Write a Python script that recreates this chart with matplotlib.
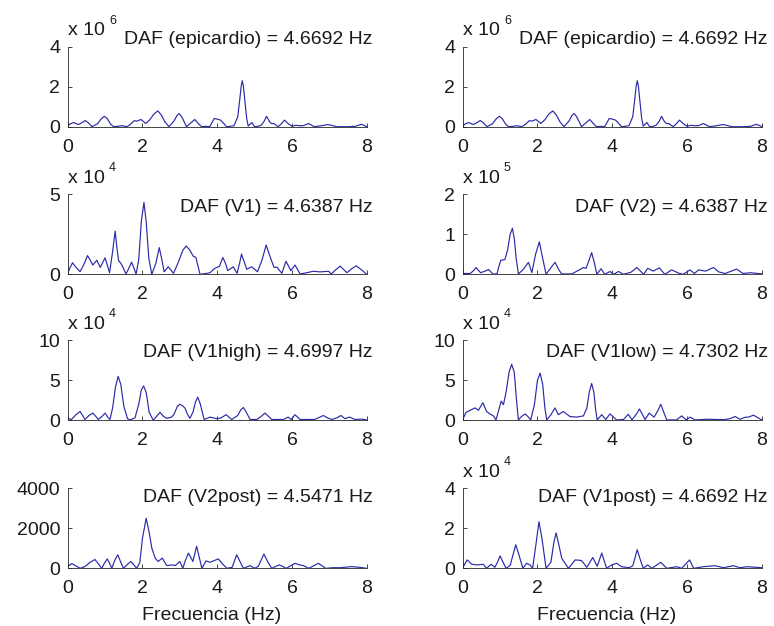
import numpy as np
import matplotlib.pyplot as plt

plt.rcParams['font.family'] = ['Liberation Sans', 'DejaVu Sans']
plt.rcParams['font.size'] = 14

# (frequency Hz, amplitude in units of the axis multiplier)
epi = [(0, 0.05), (0.08, 0.15), (0.16, 0.21), (0.23, 0.15), (0.29, 0.11), (0.38, 0.2), (0.47, 0.31),
       (0.56, 0.18), (0.65, 0.0), (0.8, 0.15), (0.9, 0.4), (0.98, 0.52), (1.06, 0.4), (1.15, 0.12),
       (1.23, 0.0), (1.35, 0.02), (1.45, 0.05), (1.58, 0.0), (1.68, 0.12), (1.78, 0.3), (1.85, 0.28),
       (1.96, 0.36), (2.09, 0.16), (2.2, 0.35), (2.3, 0.62), (2.41, 0.79), (2.5, 0.6), (2.6, 0.25),
       (2.71, 0.0), (2.85, 0.3), (2.92, 0.55), (2.98, 0.66), (3.05, 0.5), (3.18, 0.0), (3.3, 0.2),
       (3.4, 0.36), (3.5, 0.15), (3.58, 0.0), (3.7, 0.02), (3.8, 0.0), (3.92, 0.41), (4.0, 0.38),
       (4.09, 0.33), (4.18, 0.15), (4.25, 0.0), (4.35, 0.02), (4.45, 0.05), (4.55, 0.5), (4.6, 1.3),
       (4.64, 2.0), (4.67, 2.3), (4.7, 2.05), (4.74, 1.3), (4.79, 0.4), (4.83, 0.03), (4.93, 0.21),
       (5.0, 0.0), (5.1, 0.02), (5.18, 0.08), (5.25, 0.25), (5.32, 0.52), (5.4, 0.25), (5.45, 0.16),
       (5.52, 0.15), (5.63, 0.0), (5.72, 0.15), (5.8, 0.33), (5.9, 0.15), (6.0, 0.02), (6.1, 0.07),
       (6.2, 0.05), (6.3, 0.05), (6.37, 0.1), (6.44, 0.16), (6.52, 0.08), (6.6, 0.0), (6.8, 0.05),
       (6.96, 0.11), (7.1, 0.05), (7.2, 0.0), (7.5, 0.0), (7.7, 0.02), (7.86, 0.12), (7.95, 0.05),
       (8.0, 0.0)]

v1 = [(0, 0.06), (0.06, 0.4), (0.13, 0.72), (0.2, 0.5), (0.33, 0.16), (0.43, 0.6), (0.53, 1.17),
      (0.6, 0.9), (0.67, 0.58), (0.78, 0.88), (0.87, 0.43), (0.93, 0.7), (1.0, 1.03), (1.07, 0.5),
      (1.12, 0.1), (1.2, 1.4), (1.27, 2.7), (1.32, 1.6), (1.36, 0.88), (1.45, 0.58), (1.56, 0.02),
      (1.64, 0.4), (1.71, 0.76), (1.77, 0.4), (1.83, 0.02), (1.9, 0.9), (1.97, 3.3), (2.04, 4.49),
      (2.1, 3.3), (2.17, 1.0), (2.25, 0.0), (2.36, 0.7), (2.45, 1.67), (2.52, 0.9), (2.58, 0.16),
      (2.69, 0.47), (2.83, 0.06), (2.95, 0.7), (3.08, 1.5), (3.17, 1.77), (3.27, 1.5), (3.36, 1.13),
      (3.43, 1.05), (3.54, 0.0), (3.7, 0.05), (3.81, 0.1), (3.92, 0.35), (3.99, 0.43), (4.06, 0.5),
      (4.15, 1.05), (4.22, 0.7), (4.28, 0.23), (4.43, 0.47), (4.53, 0.06), (4.6, 0.7), (4.65, 1.26),
      (4.72, 0.8), (4.79, 0.31), (4.92, 0.47), (5.08, 0.16), (5.2, 0.9), (5.31, 1.83), (5.4, 1.2),
      (5.52, 0.43), (5.6, 0.45), (5.73, 0.06), (5.84, 0.82), (5.97, 0.23), (6.08, 0.58), (6.22, 0.02),
      (6.4, 0.1), (6.57, 0.19), (6.75, 0.15), (6.98, 0.19), (7.05, 0.02), (7.18, 0.3), (7.29, 0.51),
      (7.47, 0.1), (7.6, 0.35), (7.72, 0.53), (7.85, 0.3), (8.0, 0.0)]

v2 = [(0, 0.02), (0.2, 0.02), (0.3, 0.1), (0.36, 0.17), (0.42, 0.1), (0.48, 0.04), (0.6, 0.08),
      (0.69, 0.12), (0.82, 0.0), (0.92, 0.02), (0.97, 0.2), (1.02, 0.35), (1.13, 0.37), (1.2, 0.6),
      (1.27, 1.0), (1.33, 1.15), (1.38, 0.9), (1.43, 0.4), (1.49, 0.01), (1.62, 0.12), (1.76, 0.3),
      (1.85, 0.04), (1.95, 0.5), (2.05, 0.81), (2.14, 0.4), (2.23, 0.0), (2.35, 0.15), (2.47, 0.3),
      (2.58, 0.1), (2.65, 0.01), (2.92, 0.01), (3.1, 0.1), (3.23, 0.17), (3.3, 0.15), (3.38, 0.35),
      (3.45, 0.54), (3.52, 0.3), (3.59, 0.0), (3.7, 0.14), (3.8, 0.0), (3.94, 0.07), (4.04, 0.0),
      (4.17, 0.07), (4.3, 0.0), (4.5, 0.05), (4.66, 0.17), (4.84, 0.0), (4.95, 0.15), (5.1, 0.08),
      (5.26, 0.16), (5.41, 0.0), (5.59, 0.11), (5.8, 0.02), (5.9, 0.0), (6.08, 0.11), (6.2, 0.02),
      (6.31, 0.11), (6.5, 0.08), (6.71, 0.17), (6.85, 0.06), (7.02, 0.02), (7.33, 0.13), (7.5, 0.02),
      (7.7, 0.04), (8.0, 0.01)]

v1high = [(0, 0.25), (0.1, 0.1), (0.22, 0.7), (0.33, 1.1), (0.4, 0.6), (0.46, 0.1), (0.57, 0.6),
          (0.67, 0.9), (0.75, 0.5), (0.82, 0.1), (0.92, 0.5), (1.0, 0.9), (1.07, 0.4), (1.13, 0.1),
          (1.2, 1.5), (1.28, 4.2), (1.35, 5.5), (1.42, 4.5), (1.5, 1.8), (1.6, 0.2), (1.67, 0.05),
          (1.8, 0.3), (1.9, 2.0), (1.97, 3.8), (2.03, 4.3), (2.1, 3.5), (2.18, 1.0), (2.29, 0.0),
          (2.38, 0.5), (2.47, 1.0), (2.56, 0.5), (2.65, 0.25), (2.78, 0.4), (2.85, 0.8), (2.93, 1.7),
          (3.0, 2.0), (3.08, 1.8), (3.14, 1.5), (3.2, 0.8), (3.27, 0.25), (3.35, 1.0), (3.42, 2.3),
          (3.48, 2.9), (3.55, 2.0), (3.65, 0.1), (3.81, 0.4), (3.99, 0.2), (4.1, 0.3), (4.24, 0.7),
          (4.39, 0.1), (4.55, 0.6), (4.63, 1.3), (4.7, 1.6), (4.78, 1.0), (4.88, 0.1), (5.06, 0.1),
          (5.18, 0.5), (5.28, 0.9), (5.37, 0.5), (5.46, 0.1), (5.77, 0.1), (5.9, 0.4), (5.98, 0.1),
          (6.08, 0.7), (6.22, 0.1), (6.6, 0.1), (6.75, 0.4), (6.84, 0.6), (6.95, 0.3), (7.07, 0.1),
          (7.2, 0.3), (7.31, 0.6), (7.42, 0.2), (7.54, 0.4), (7.69, 0.1), (7.85, 0.15), (8.0, 0.05)]

v1low = [(0, 0.1), (0.09, 1.0), (0.2, 1.25), (0.33, 1.55), (0.42, 1.25), (0.54, 2.2), (0.64, 1.1),
         (0.73, 0.8), (0.82, 0.55), (0.89, 0.05), (0.96, 1.2), (1.03, 2.4), (1.09, 1.95), (1.16, 3.5),
         (1.24, 6.0), (1.31, 7.0), (1.38, 6.0), (1.44, 2.5), (1.49, 0.05), (1.58, 0.5), (1.67, 0.8),
         (1.76, 0.4), (1.82, 0.05), (1.92, 2.0), (2.0, 5.0), (2.07, 5.9), (2.14, 4.5), (2.2, 1.5),
         (2.25, 0.05), (2.36, 0.7), (2.47, 1.55), (2.56, 0.7), (2.69, 1.1), (2.87, 0.47), (3.05, 0.4),
         (3.23, 0.55), (3.32, 1.5), (3.39, 3.6), (3.45, 4.6), (3.51, 3.5), (3.56, 1.2), (3.6, 0.05),
         (3.72, 0.7), (3.83, 0.1), (3.94, 0.8), (4.12, 0.05), (4.3, 0.1), (4.43, 0.75), (4.53, 0.05),
         (4.65, 0.8), (4.73, 1.4), (4.8, 0.8), (4.88, 0.1), (4.99, 0.9), (5.12, 0.4), (5.22, 1.2),
         (5.3, 2.0), (5.38, 1.0), (5.46, 0.05), (5.72, 0.05), (5.86, 0.55), (5.98, 0.05), (6.08, 0.4),
         (6.22, 0.05), (6.53, 0.13), (6.8, 0.1), (7.0, 0.08), (7.15, 0.2), (7.29, 0.47), (7.42, 0.13),
         (7.56, 0.38), (7.65, 0.4), (7.78, 0.64), (7.87, 0.4), (8.0, 0.05)]

v2post = [(0, 85), (0.11, 240), (0.22, 120), (0.33, 0), (0.46, 85), (0.6, 300), (0.73, 440), (0.83, 200),
          (0.91, 0), (0.98, 250), (1.06, 470), (1.12, 250), (1.18, 0), (1.26, 400), (1.34, 675),
          (1.41, 350), (1.49, 0), (1.6, 200), (1.69, 340), (1.78, 150), (1.85, 0), (1.93, 300),
          (2.0, 1500), (2.1, 2500), (2.18, 1800), (2.25, 1015), (2.34, 510), (2.42, 340), (2.53, 510),
          (2.65, 135), (2.78, 170), (2.88, 140), (3.0, 340), (3.08, 0), (3.15, 400), (3.23, 760),
          (3.35, 340), (3.41, 800), (3.45, 1100), (3.5, 700), (3.59, 0), (3.7, 370), (3.81, 300),
          (3.9, 370), (4.03, 470), (4.15, 200), (4.26, 0), (4.4, 50), (4.52, 675), (4.62, 300),
          (4.7, 0), (4.88, 135), (5.0, 0), (5.1, 100), (5.25, 710), (5.36, 300), (5.46, 0),
          (5.66, 170), (5.85, 0), (6.08, 250), (6.2, 170), (6.3, 140), (6.45, 0), (6.71, 250),
          (6.9, 0), (7.1, 30), (7.3, 30), (7.6, 85), (7.8, 50), (8.0, 0)]

v1post = [(0, 0.03), (0.12, 0.42), (0.24, 0.2), (0.4, 0.17), (0.55, 0.2), (0.64, 0.0), (0.76, 0.2),
          (0.86, 0.05), (0.93, 0.3), (1.0, 0.62), (1.08, 0.3), (1.16, 0.0), (1.27, 0.15), (1.35, 0.7),
          (1.42, 1.18), (1.5, 0.7), (1.61, 0.0), (1.71, 0.25), (1.8, 0.17), (1.87, 0.0), (1.96, 1.2),
          (2.04, 2.33), (2.12, 1.5), (2.23, 0.0), (2.36, 0.3), (2.44, 1.3), (2.5, 1.77), (2.57, 1.2),
          (2.65, 0.5), (2.83, 0.0), (3.01, 0.42), (3.18, 0.39), (3.32, 0.05), (3.48, 0.54), (3.6, 0.1),
          (3.72, 0.76), (3.85, 0.0), (3.99, 0.17), (4.12, 0.25), (4.25, 0.08), (4.45, 0.03), (4.55, 0.12),
          (4.62, 0.6), (4.67, 0.93), (4.74, 0.5), (4.83, 0.0), (4.95, 0.17), (5.06, 0.0), (5.3, 0.3),
          (5.46, 0.0), (5.73, 0.08), (5.86, 0.0), (6.07, 0.42), (6.18, 0.0), (6.44, 0.08), (6.75, 0.13),
          (6.98, 0.03), (7.24, 0.13), (7.42, 0.03), (7.6, 0.08), (8.0, 0.03)]

names = ['epicardio', 'epicardio', 'V1', 'V2', 'V1high', 'V1low', 'V2post', 'V1post']
dafs = ['4.6692', '4.6692', '4.6387', '4.6387', '4.6997', '4.7302', '4.5471', '4.6692']
series = [epi, epi, v1, v2, v1high, v1low, v2post, v1post]
yticks = [[0, 2, 4], [0, 2, 4], [0, 5], [0, 1, 2], [0, 5, 10], [0, 5, 10], [0, 2000, 4000], [0, 2, 4]]
exps = ['6', '6', '4', '5', '4', '4', None, '4']

W, H = 774, 626
fig = plt.figure(figsize=(W / 100, H / 100), dpi=100)

col_x = [67.7, 462.7]
row_bottom = [126.7, 274.3, 420.3, 568.3]
ax_w, ax_h = 299, 80
text_base = [1.03, 0.775, 0.796, 0.823]

for i in range(8):
    r, c = divmod(i, 2)
    ax = fig.add_axes([col_x[c] / W, 1 - row_bottom[r] / H, ax_w / W, ax_h / H])
    f, v = np.array(series[i]).T
    ax.plot(f, v, color='#2a2aa8', lw=0.85)
    ax.set_xlim(0, 8)
    ax.set_ylim(yticks[i][0], yticks[i][-1])
    ax.set_xticks([0, 2, 4, 6, 8])
    ax.set_yticks(yticks[i])
    for s in ['top', 'right']:
        ax.spines[s].set_visible(False)
    for s in ['left', 'bottom']:
        ax.spines[s].set_linewidth(0.6)
        ax.spines[s].set_color('#262626')
    ax.tick_params(direction='in', length=3, width=0.6, colors='#262626', labelcolor='#1a1a1a')
    ax.tick_params(axis='x', pad=8.5)
    ax.tick_params(axis='y', pad=5.5)
    ax.text(1.02, text_base[r], f'DAF ({names[i]}) = {dafs[i]} Hz', transform=ax.transAxes,
            ha='right', va='baseline', color='#1a1a1a')
    if exps[i] is not None:
        ax.text(0.002, 1.145, 'x 10', transform=ax.transAxes, ha='left', va='baseline', color='#1a1a1a')
        ax.text(0.138, 1.29, exps[i], transform=ax.transAxes, ha='left', va='baseline',
                fontsize=9, color='#1a1a1a')
    if r == 3:
        ax.set_xlabel('Frecuencia (Hz)', color='#1a1a1a')
        ax.xaxis.set_label_coords(0.48, -0.48)

fig.savefig('out.png', dpi=100)
